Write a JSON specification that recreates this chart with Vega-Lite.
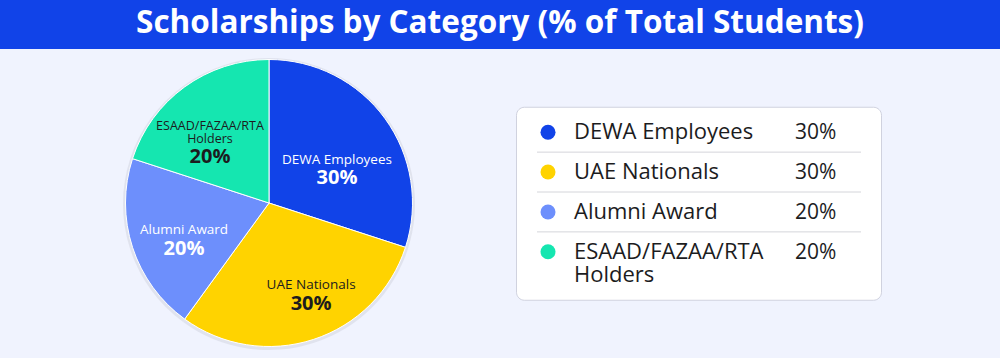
{
  "$schema": "https://vega.github.io/schema/vega-lite/v6.json",
  "background": "#f0f3fe",
  "padding": 0,
  "spacing": 0,
  "config": {
    "view": {"stroke": null},
    "concat": {"spacing": 0},
    "text": {"font": "Open Sans", "lineBreak": "\n"}
  },
  "datasets": {
    "heading": [
      {"title": "Scholarships by Category (% of Total Students)"}
    ],
    "cats": [
      {"category": "DEWA Employees", "label": "DEWA Employees", "value": 0.30, "order": 1},
      {"category": "UAE Nationals", "label": "UAE Nationals", "value": 0.30, "order": 2},
      {"category": "Alumni Award", "label": "Alumni Award", "value": 0.20, "order": 3},
      {"category": "ESAAD/FAZAA/RTA Holders", "label": "ESAAD/FAZAA/RTA\nHolders", "value": 0.20, "order": 4}
    ]
  },
  "vconcat": [
    {
      "width": 1000,
      "height": 49,
      "view": {"fill": "#1143e8", "stroke": null},
      "data": {"name": "heading"},
      "mark": {"type": "text", "color": "white", "fontSize": 31.5, "fontWeight": "bold", "font": "Open Sans", "baseline": "middle", "dy": -1},
      "encoding": {"text": {"field": "title", "type": "nominal"}}
    },
    {
      "hconcat": [
        {
          "width": 515,
          "height": 309,
          "data": {"name": "cats"},
          "encoding": {
            "theta": {"field": "value", "type": "quantitative", "stack": true},
            "order": {"field": "order", "type": "quantitative"}
          },
          "layer": [
            {"mark": {"type": "arc", "outerRadius": 146, "x": 269, "y": 155, "fill": "#dcdfea", "opacity": 0.8}},
            {
              "mark": {"type": "arc", "outerRadius": 143.5, "x": 269, "y": 154, "stroke": "white", "strokeWidth": 1},
              "encoding": {
                "color": {
                  "field": "category", "type": "nominal", "legend": null,
                  "scale": {"domain": ["DEWA Employees", "UAE Nationals", "Alumni Award", "ESAAD/FAZAA/RTA Holders"], "range": ["#1143e8", "#ffd300", "#6d8ffc", "#15e6b0"]}
                }
              }
            },
            {
              "mark": {"type": "text", "x": 269, "y": 154, "radius": 76, "thetaOffset": 0.164, "dy": -9, "fontSize": 13.5, "fontWeight": 500, "color": "white", "baseline": "middle"},
              "encoding": {"text": {"condition": {"test": "datum.category === 'DEWA Employees'", "field": "label"}, "value": ""}}
            },
            {
              "mark": {"type": "text", "x": 269, "y": 154, "radius": 76, "thetaOffset": 0.164, "dy": 9.5, "fontSize": 20, "fontWeight": "bold", "color": "white", "baseline": "middle"},
              "encoding": {"text": {"condition": {"test": "datum.category === 'DEWA Employees'", "field": "value", "format": ".0%"}, "value": ""}}
            },
            {
              "mark": {"type": "text", "x": 269, "y": 154, "radius": 100.7, "thetaOffset": -0.117, "dy": -9.5, "fontSize": 13.5, "fontWeight": 500, "color": "#1c1c1e", "baseline": "middle"},
              "encoding": {"text": {"condition": {"test": "datum.category === 'UAE Nationals'", "field": "label"}, "value": ""}}
            },
            {
              "mark": {"type": "text", "x": 269, "y": 154, "radius": 100.7, "thetaOffset": -0.117, "dy": 10, "fontSize": 20, "fontWeight": "bold", "color": "#1c1c1e", "baseline": "middle"},
              "encoding": {"text": {"condition": {"test": "datum.category === 'UAE Nationals'", "field": "value", "format": ".0%"}, "value": ""}}
            },
            {
              "mark": {"type": "text", "x": 269, "y": 154, "radius": 92.3, "thetaOffset": -0.087, "dy": -9, "fontSize": 13.5, "fontWeight": 500, "color": "white", "baseline": "middle"},
              "encoding": {"text": {"condition": {"test": "datum.category === 'Alumni Award'", "field": "label"}, "value": ""}}
            },
            {
              "mark": {"type": "text", "x": 269, "y": 154, "radius": 92.3, "thetaOffset": -0.087, "dy": 9.5, "fontSize": 20, "fontWeight": "bold", "color": "white", "baseline": "middle"},
              "encoding": {"text": {"condition": {"test": "datum.category === 'Alumni Award'", "field": "value", "format": ".0%"}, "value": ""}}
            },
            {
              "mark": {"type": "text", "x": 269, "y": 154, "radius": 85.6, "thetaOffset": -0.133, "dy": -15.3, "fontSize": 12.5, "fontWeight": 500, "color": "#1c1c1e", "baseline": "middle", "lineHeight": 13.3},
              "encoding": {"text": {"condition": {"test": "datum.category === 'ESAAD/FAZAA/RTA Holders'", "field": "label"}, "value": ""}}
            },
            {
              "mark": {"type": "text", "x": 269, "y": 154, "radius": 85.6, "thetaOffset": -0.133, "dy": 15.5, "fontSize": 20, "fontWeight": "bold", "color": "#1c1c1e", "baseline": "middle"},
              "encoding": {"text": {"condition": {"test": "datum.category === 'ESAAD/FAZAA/RTA Holders'", "field": "value", "format": ".0%"}, "value": ""}}
            }
          ]
        },
        {
          "width": 365,
          "height": 193,
          "view": {"fill": "white", "cornerRadius": 8, "stroke": "#d0d2df", "strokeWidth": 1},
          "data": {"name": "cats"},
          "encoding": {
            "y": {
              "field": "category", "type": "nominal", "axis": null,
              "scale": {"type": "band", "domain": ["DEWA Employees", "UAE Nationals", "Alumni Award", "ESAAD/FAZAA/RTA Holders"], "range": [5.5, 165], "paddingInner": 0, "paddingOuter": 0}
            }
          },
          "layer": [
            {
              "transform": [{"filter": "datum.order < 4"}],
              "mark": {"type": "rule", "x": 21, "x2": 345, "color": "#d4d5da", "strokeWidth": 1},
              "encoding": {"y": {"field": "category", "type": "nominal", "bandPosition": 1}}
            },
            {
              "mark": {"type": "point", "filled": true, "size": 225, "x": 32, "opacity": 1},
              "encoding": {
                "color": {
                  "field": "category", "type": "nominal", "legend": null,
                  "scale": {"domain": ["DEWA Employees", "UAE Nationals", "Alumni Award", "ESAAD/FAZAA/RTA Holders"], "range": ["#1143e8", "#ffd300", "#6d8ffc", "#15e6b0"]}
                }
              }
            },
            {
              "mark": {"type": "text", "x": 58, "align": "left", "baseline": "alphabetic", "dy": 7, "fontSize": 22, "lineHeight": 23.5, "color": "#1c1c1e"},
              "encoding": {"text": {"field": "label"}}
            },
            {
              "mark": {"type": "text", "x": 279, "align": "left", "baseline": "alphabetic", "dy": 7, "fontSize": 21, "color": "#1c1c1e"},
              "encoding": {"text": {"field": "value", "format": ".0%"}}
            }
          ]
        }
      ],
      "spacing": 0,
      "center": true
    }
  ]
}
